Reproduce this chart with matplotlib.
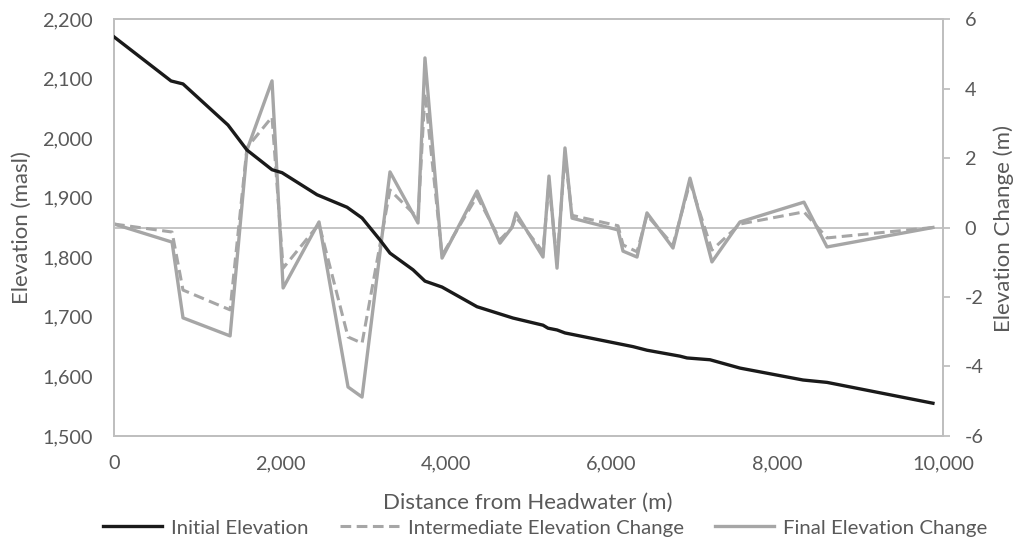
import matplotlib.pyplot as plt
from matplotlib.lines import Line2D

# ── DATA ───────────────────────────────────────────────────────
elev_dist = [0, 688, 832, 1375, 1604, 1906, 2027, 2449, 2811, 2992, 3209, 3329,
             3607, 3751, 3957, 4379, 4813, 5175, 5235, 5344, 5440, 6261, 6429,
             6828, 6912, 7189, 7551, 8311, 8601, 9879]
elev_init = [2170, 2096, 2091, 2022, 1980, 1947, 1942, 1905, 1884, 1866, 1829, 1807,
             1779, 1760, 1750, 1717, 1698, 1686, 1681, 1678, 1673, 1650, 1644,
             1634, 1631, 1628, 1614, 1594, 1590, 1555]

chg_dist = [0, 700, 832, 1400, 1604, 1906, 2040, 2473, 2823, 2992, 3329, 3667,
            3751, 3957, 4379, 4656, 4800, 4849, 5175, 5247, 5344, 5440, 5525,
            6080, 6140, 6309, 6429, 6743, 6948, 7213, 7551, 8323, 8601, 9879]
chg_final = [0.1, -0.42, -2.6, -3.12, 2.23, 4.22, -1.74, 0.16, -4.59, -4.88, 1.6, 0.13,
             4.88, -0.88, 1.05, -0.45, 0.0, 0.42, -0.85, 1.48, -1.17, 2.29, 0.27,
             -0.07, -0.68, -0.85, 0.42, -0.59, 1.42, -0.99, 0.16, 0.73, -0.56, 0.0]
chg_inter = [0.1, -0.13, -1.8, -2.37, 2.3, 3.18, -1.17, 0.1, -3.15, -3.33, 1.08, 0.27,
             3.87, -0.8, 0.9, -0.35, 0.0, 0.3, -0.7, 1.3, -1.0, 2.1, 0.35,
             0.05, -0.5, -0.7, 0.35, -0.5, 1.3, -0.65, 0.1, 0.45, -0.3, 0.0]

left_ticks = [1500, 1600, 1700, 1800, 1900, 2000, 2100, 2200]
right_ticks = [-6, -4, -2, 0, 2, 4, 6]
x_ticks = [0, 2000, 4000, 6000, 8000, 10000]

TXT = "#595959"
AXC = "#bfbfbf"
GREY = "#a6a6a6"
DASH = (0, (3.5, 1.8))

plt.rcParams["font.family"] = ["Lato", "DejaVu Sans"]
plt.rcParams["axes.unicode_minus"] = False

# ── PLOT ───────────────────────────────────────────────────────
fig, ax = plt.subplots(figsize=(10.19, 5.40), dpi=100)
fig.subplots_adjust(left=0.1119, right=0.9254, top=0.9648, bottom=0.1926)
ax2 = ax.twinx()

ax2.axhline(0, color=AXC, lw=1.3, zorder=1)
ax2.plot(chg_dist, chg_inter, color=GREY, lw=2.2, ls=DASH, zorder=2)
ax2.plot(chg_dist, chg_final, color=GREY, lw=2.4, zorder=3)
ax.plot(elev_dist, elev_init, color="#1a1a1a", lw=2.4, zorder=4)

# black line drawn above the change lines
ax.set_zorder(ax2.get_zorder() + 1)
ax.patch.set_visible(False)

ax.set_xlim(0, 10000)
ax.set_ylim(1500, 2200)
ax2.set_ylim(-6, 6)

ax.set_xticks(x_ticks)
ax.set_xticklabels([f"{v:,}" for v in x_ticks])
ax.set_yticks(left_ticks)
ax.set_yticklabels([f"{v:,}" for v in left_ticks])
ax2.set_yticks(right_ticks)

for a in (ax, ax2):
    for s in a.spines.values():
        s.set_color(AXC)
        s.set_linewidth(1.3)
ax.tick_params(axis="y", length=0, labelsize=14.3, colors=TXT, pad=15.5)
ax.tick_params(axis="x", length=0, labelsize=14.3, colors=TXT, pad=14)
ax2.tick_params(axis="y", length=5, width=1.3, color=AXC, labelsize=14.3,
                labelcolor=TXT, pad=10.5)

fig.text(22 / 1019, 1 - 227.5 / 540, "Elevation (masl)", rotation=90,
         ha="center", va="center", color=TXT, fontsize=16)
fig.text(1004 / 1019, 1 - 229 / 540, "Elevation Change (m)", rotation=90,
         ha="center", va="center", color=TXT, fontsize=16)
fig.text(528 / 1019, 1 - 503 / 540, "Distance from Headwater (m)",
         ha="center", va="center", color=TXT, fontsize=16)

handles = [
    Line2D([], [], color="#1a1a1a", lw=2.4),
    Line2D([], [], color=GREY, lw=2.2, ls=DASH),
    Line2D([], [], color=GREY, lw=2.4),
]
labels = ["Initial Elevation", "Intermediate Elevation Change", "Final Elevation Change"]
fig.legend(handles, labels, loc="center", bbox_to_anchor=(0.535, 1 - 528 / 540),
           ncol=3, frameon=False, fontsize=14.7, labelcolor=TXT,
           handlelength=2.9, handletextpad=0.45, columnspacing=1.5,
           borderpad=0, borderaxespad=0)

plt.savefig("out.png", dpi=100, facecolor="white")
plt.close()
